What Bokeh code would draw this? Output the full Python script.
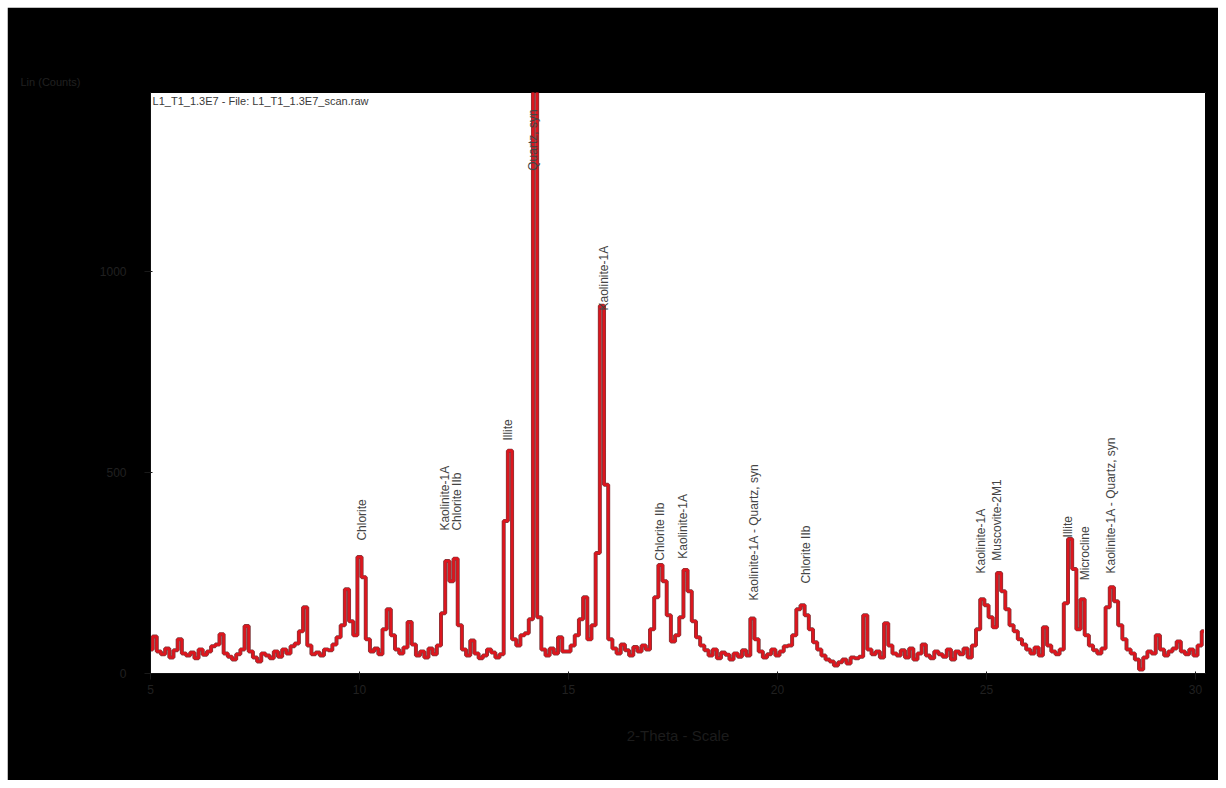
from bokeh.plotting import figure
from bokeh.models import Range1d, FixedTicker, ColumnDataSource, Title, Label
from bokeh.embed import file_html
from bokeh.resources import INLINE
from bokeh.core.properties import value

# measured intensity (Lin counts), 2-theta scan from 5.0 deg, step 0.1 deg
counts = (
    [60, 92, 55, 48, 62, 40, 58, 85, 50, 45] +          # 5.x
    [52, 38, 60, 47, 55, 68, 72, 98, 50, 42] +          # 6.x
    [35, 48, 60, 118, 55, 40, 30, 50, 45, 38] +         # 7.x
    [55, 42, 60, 50, 68, 75, 105, 165, 70, 48] +        # 8.x
    [52, 45, 60, 58, 72, 90, 120, 210, 130, 95] +       # 9.x
    [290, 240, 85, 55, 62, 48, 110, 160, 95, 60] +      # 10.x
    [50, 65, 128, 72, 45, 55, 40, 62, 48, 70] +         # 11.x
    [150, 280, 230, 286, 120, 60, 45, 82, 50, 38] +     # 12.x
    [45, 60, 52, 40, 48, 380, 555, 85, 70, 95] +        # 13.x
    [100, 135, 1500, 140, 60, 45, 62, 50, 90, 55] +     # 14.x
    [55, 70, 95, 135, 190, 85, 120, 300, 916, 470] +    # 15.x
    [85, 62, 50, 72, 58, 45, 66, 55, 70, 60] +          # 16.x
    [110, 190, 270, 230, 145, 80, 95, 140, 258, 205] +  # 17.x
    [130, 90, 70, 58, 45, 60, 38, 52, 47, 35] +         # 18.x
    [50, 42, 58, 45, 137, 85, 55, 40, 48, 60] +         # 19.x
    [45, 55, 68, 70, 95, 160, 170, 145, 110, 78] +      # 20.x
    [60, 45, 35, 30, 20, 28, 35, 25, 40, 38] +          # 21.x
    [42, 145, 60, 48, 55, 40, 125, 70, 50, 45] +        # 22.x
    [58, 40, 62, 35, 50, 72, 45, 38, 55, 48] +          # 23.x
    [42, 60, 35, 55, 48, 62, 40, 70, 110, 185] +        # 24.x
    [170, 140, 115, 250, 205, 160, 120, 105, 85, 72] +  # 25.x
    [60, 50, 65, 45, 115, 70, 55, 48, 60, 175] +        # 26.x
    [335, 260, 110, 185, 95, 70, 58, 50, 62, 165] +     # 27.x
    [215, 180, 120, 85, 60, 50, 35, 10, 40, 55] +       # 28.x
    [50, 95, 60, 45, 55, 62, 80, 55, 48, 60] +          # 29.x
    [45, 70, 105]                                       # 30.0-30.2
)
scan_start = 5.0
scan_step = 0.1
two_theta = [round(scan_start + scan_step * i, 2) for i in range(len(counts))]

# phase labels (2-theta, counts at label base)
phase_names = ["Chlorite", "Kaolinite-1A", "Chlorite IIb", "Illite", "Quartz, syn",
               "Kaolinite-1A", "Chlorite IIb", "Kaolinite-1A",
               "Kaolinite-1A - Quartz, syn", "Chlorite IIb",
               "Kaolinite-1A", "Muscovite-2M1", "Illite", "Microcline",
               "Kaolinite-1A - Quartz, syn"]
phase_x = [10.05, 12.04, 12.34, 13.56, 14.16, 15.84,
           17.20, 17.75, 19.45, 20.69,
           24.86, 25.26, 26.96, 27.36, 27.97]
phase_y = [331, 356, 356, 580, 1252, 904,
           281, 286, 182, 224,
           249, 281, 339, 232, 249]

x_ticks = [5, 10, 15, 20, 25, 30]
y_ticks = [0, 500, 1000]
sample_name = "L1_T1_1.3E7 - File: L1_T1_1.3E7_scan.raw"

p = figure(width=1211, height=773, output_backend="svg", toolbar_location=None,
           x_range=Range1d(5.0, 30.24), y_range=Range1d(0, 1447),
           min_border_left=143, min_border_right=13, min_border_top=85,
           min_border_bottom=107)
p.margin = (7, 0, 0, 7)
p.background_fill_color = "white"
p.border_fill_color = "black"
p.outline_line_color = "black"
p.grid.visible = False

txt = "#202020"
p.add_layout(Title(text="Lin (Counts)", align="left", offset=-130,
                   text_color=txt, text_font="Liberation Sans",
                   text_font_size="11px", text_font_style="normal"), "above")

for ax in (p.xaxis[0], p.yaxis[0]):
    ax.axis_line_color = "#111111"
    ax.major_tick_line_color = "#1a1a1a"
    ax.minor_tick_line_color = None
    ax.major_label_text_color = txt
    ax.major_label_text_font = "Liberation Sans"
    ax.major_label_text_font_size = "12px"
    ax.axis_label_text_color = "#1c1c1c"
    ax.axis_label_text_font = "Liberation Sans"
    ax.axis_label_text_font_style = "normal"
p.xaxis.ticker = FixedTicker(ticks=x_ticks)
p.yaxis.ticker = FixedTicker(ticks=y_ticks)
p.xaxis.axis_label = "2-Theta - Scale"
p.xaxis.axis_label_text_font_size = "15px"
p.xaxis.axis_label_standoff = 30
p.yaxis.major_label_standoff = 18

src = ColumnDataSource(dict(x=two_theta, y=counts))
p.step("x", "y", source=src, mode="center", line_color="#5e0a0e", line_width=4,
       line_alpha=0.8)
p.step("x", "y", source=src, mode="center", line_color="#dc161e", line_width=2.6)

lab = ColumnDataSource(dict(x=phase_x, y=phase_y, t=phase_names))
p.text("x", "y", text="t", source=lab, angle=1.5708, text_align="left",
       text_baseline="middle", text_color="#444444",
       text_font=value("Liberation Sans"), text_font_size="12px")

p.add_layout(Label(x=5.05, y=1447, y_offset=-14, text=sample_name, text_color="#3a3a3a",
                   text_font="Liberation Sans", text_font_size="11px"))

open("out.html", "w").write(file_html(p, INLINE))
